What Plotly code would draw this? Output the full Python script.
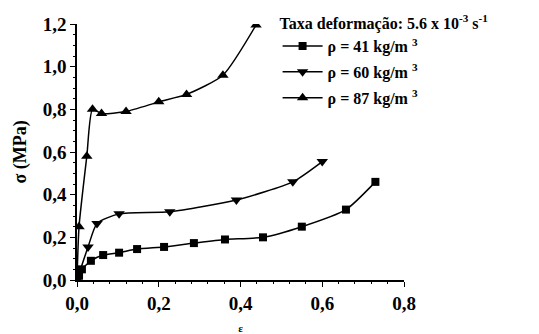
import plotly.graph_objects as go

x41 = [0.0, 0.005, 0.012, 0.034, 0.064, 0.103, 0.147, 0.213, 0.286, 0.362, 0.455, 0.55, 0.658, 0.73]
y41 = [0.0, 0.02, 0.05, 0.09, 0.117, 0.128, 0.145, 0.155, 0.173, 0.19, 0.20, 0.25, 0.33, 0.46]
x60 = [0.0, 0.027, 0.049, 0.103, 0.227, 0.39, 0.528, 0.60]
y60 = [0.0, 0.155, 0.265, 0.31, 0.32, 0.375, 0.46, 0.555]
x87 = [0.0, 0.005, 0.024, 0.038, 0.06, 0.12, 0.20, 0.268, 0.357, 0.438]
y87 = [0.0, 0.25, 0.58, 0.80, 0.78, 0.79, 0.835, 0.87, 0.96, 1.195]

names = ["<b>ρ = 41 kg/m <sup>3</sup></b>", "<b>ρ = 60 kg/m <sup>3</sup></b>", "<b>ρ = 87 kg/m <sup>3</sup></b>"]
symbols = ["square", "triangle-down", "triangle-up"]
xs = [x41, x60, x87]
ys = [y41, y60, y87]
sizes = [8, 10, 10]

FONT = "Liberation Serif, Times New Roman, serif"
fig = go.Figure()
for i, (x, y, n, s, sz) in enumerate(zip(xs, ys, names, symbols, sizes)):
    fig.add_trace(go.Scatter(
        x=x, y=y, name=n, mode="lines+markers", legendgroup=f"g{i}",
        line=dict(color="black", width=1.5, shape="spline", smoothing=0.6),
        marker=dict(symbol=s, size=sz, color="black"),
    ))

fig.update_layout(
    width=539, height=334,
    margin=dict(l=77, r=135, t=24, b=54, autoexpand=False),
    paper_bgcolor="white", plot_bgcolor="white",
    font=dict(family=FONT, size=16, color="black"),
    showlegend=True,
    legend=dict(
        xref="container", yref="container",
        x=0.515, y=0.975, xanchor="left", yanchor="top",
        bgcolor="rgba(0,0,0,0)",
        title=dict(text="<b>Taxa deformação: 5.6 x 10<sup>-3</sup> s<sup>-1</sup></b>",
                   font=dict(family=FONT, size=16)),
        font=dict(family=FONT, size=16),
        tracegroupgap=2,
        itemwidth=40,
    ),
    xaxis=dict(
        range=[0, 0.8], tickvals=[0, 0.2, 0.4, 0.6, 0.8],
        ticktext=["<b>0,0</b>", "<b>0,2</b>", "<b>0,4</b>", "<b>0,6</b>", "<b>0,8</b>"],
        showline=True, linecolor="black", linewidth=1.5,
        ticks="outside", ticklen=5, tickwidth=1.2, tickcolor="black",
        minor=dict(ticks="outside", ticklen=2, dtick=0.04, tickcolor="black"),
        showgrid=False, zeroline=False, automargin=False,
        title=dict(text="<b>ε</b>", font=dict(family=FONT, size=11), standoff=17),
        tickfont=dict(family=FONT, size=19),
    ),
    yaxis=dict(
        range=[0, 1.2], tickvals=[0, 0.2, 0.4, 0.6, 0.8, 1.0, 1.2],
        ticktext=["<b>0,0</b>", "<b>0,2</b>", "<b>0,4</b>", "<b>0,6</b>", "<b>0,8</b>", "<b>1,0</b>", "<b>1,2</b>"],
        showline=True, linecolor="black", linewidth=1.5,
        ticks="outside", ticklen=5, tickwidth=1.2, tickcolor="black",
        minor=dict(ticks="outside", ticklen=2, dtick=0.05, tickcolor="black"),
        showgrid=False, zeroline=False, automargin=False,
        title=dict(text="<b>σ (MPa)</b>", font=dict(family=FONT, size=18), standoff=11),
        tickfont=dict(family=FONT, size=19),
    ),
)

fig.write_html("out.html")
